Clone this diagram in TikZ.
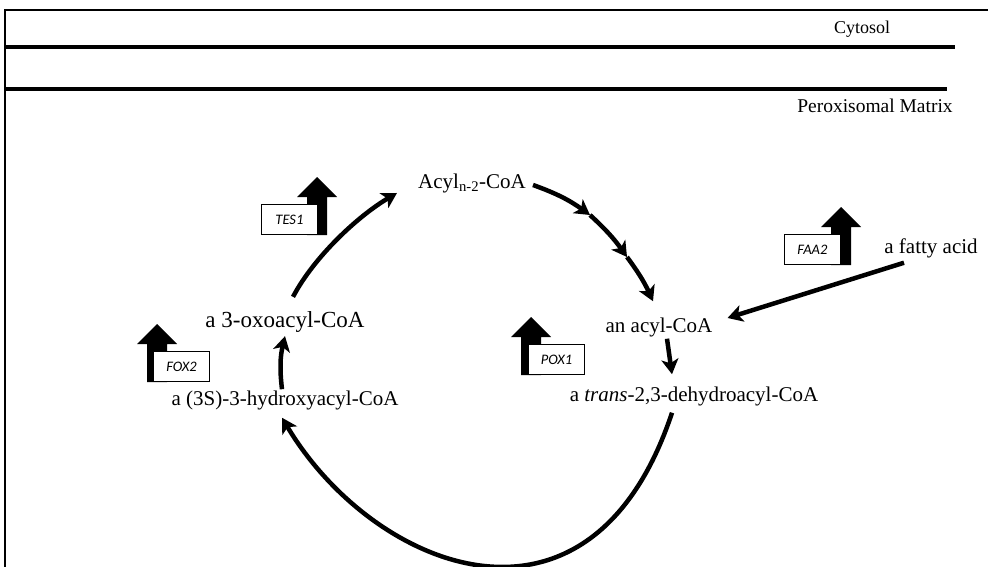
\documentclass[tikz,border=0pt]{standalone}
\usepackage{fontspec}
\setmainfont{Liberation Serif}
\newfontfamily\genefont{Carlito}
\usetikzlibrary{arrows.meta}

\begin{document}
\begin{tikzpicture}[x=1pt,y=-1pt,
  metab/.style={font=\fontsize{21}{25}\selectfont, inner sep=0pt, anchor=base},
  region/.style={font=\fontsize{18.5}{22}\selectfont, inner sep=0pt, anchor=base},
  membrane/.style={line width=4pt},
  flow/.style={line width=4.5pt, -{Stealth[length=15pt,width=17pt,inset=4pt]}},
  genebox/.style={draw, fill=white, line width=1.2pt, minimum width=56pt,
    minimum height=30pt, inner sep=0pt,
    font=\genefont\itshape\fontsize{14.5}{16}\selectfont},
  genearrow/.style={fill=black}
]
\useasboundingbox (0,0) rectangle (988,567);

% frame and the two membrane lines
\draw[line width=1.8pt] (5,567) -- (5,10) -- (988,10);
\draw[membrane] (5,47) -- (955,47);
\draw[membrane] (5,89) -- (947,89);

\node[region, font=\fontsize{18}{22}\selectfont] (cyt) at (862,34) {Cytosol};
\node[region, font=\fontsize{19.5}{23}\selectfont] (pm) at (875,113) {Peroxisomal Matrix};

% metabolites
\node[metab] (acyln) at (472,188) {Acyl\textsubscript{n-2}-CoA};
\node[metab, font=\fontsize{23}{27}\selectfont] (oxo) at (285,327) {a 3-oxoacyl-CoA};
\node[metab] (hyd) at (285,405) {a (3S)-3-hydroxyacyl-CoA};
\node[metab] (acyl) at (659,332) {an acyl-CoA};
\node[metab] (trans) at (694,401) {a \textit{trans}-2,3-dehydroacyl-CoA};
\node[metab] (fa) at (931,253) {a fatty acid};

% gene markers: thick upward arrow with a labelled box
% TES1
\fill[genearrow] (307,235) -- (307,197) -- (297,197) -- (317,177) -- (337,197) -- (327,197) -- (327,235) -- cycle;
\node[genebox, anchor=south east] (tes1) at (318,235) {TES1};
% FAA2
\fill[genearrow] (831,265) -- (831,227) -- (821,227) -- (841,207) -- (861,227) -- (851,227) -- (851,265) -- cycle;
\node[genebox, anchor=south east] (faa2) at (841,265) {FAA2};
% FOX2
\fill[genearrow] (147,382) -- (147,344) -- (137,344) -- (157,324) -- (177,344) -- (167,344) -- (167,382) -- cycle;
\node[genebox, anchor=south west] (fox2) at (153,382) {FOX2};
% POX1
\fill[genearrow] (521,375) -- (521,337) -- (511,337) -- (531,317) -- (551,337) -- (541,337) -- (541,375) -- cycle;
\node[genebox, anchor=south west] (pox1) at (528,375) {POX1};

% reaction cycle
\coordinate (c1) at (590,215);
\coordinate (c2) at (627,257);
\draw[flow] ([xshift=7pt,yshift=-2pt]acyln.east) to[bend left=8] (c1);
\draw[flow] (c1) to[bend left=6] (c2);
\draw[flow] (c2) to[bend left=6] ([xshift=-6pt,yshift=16pt]acyl.north);
\draw[flow] ([xshift=8pt,yshift=-2pt]acyl.south) -- ([xshift=-22pt,yshift=12pt]trans.north);
\draw[flow] ([xshift=-27pt,yshift=-5pt]fa.south) -- ([xshift=15pt,yshift=9pt]acyl.east);
\draw[flow] ([xshift=-22pt,yshift=-7pt]trans.south)
  .. controls +(-82,247) and +(90,151) .. ([xshift=-3pt,yshift=-8pt]hyd.south);
\draw[flow] ([xshift=-3pt,yshift=1pt]hyd.north) to[bend left=10] ([yshift=-4pt]oxo.south);
\draw[flow] ([xshift=8pt,yshift=14pt]oxo.north)
  .. controls +(21,-40) and +(-39,23) .. ([xshift=-21pt,yshift=-10pt]acyln.west);
\end{tikzpicture}
\end{document}
